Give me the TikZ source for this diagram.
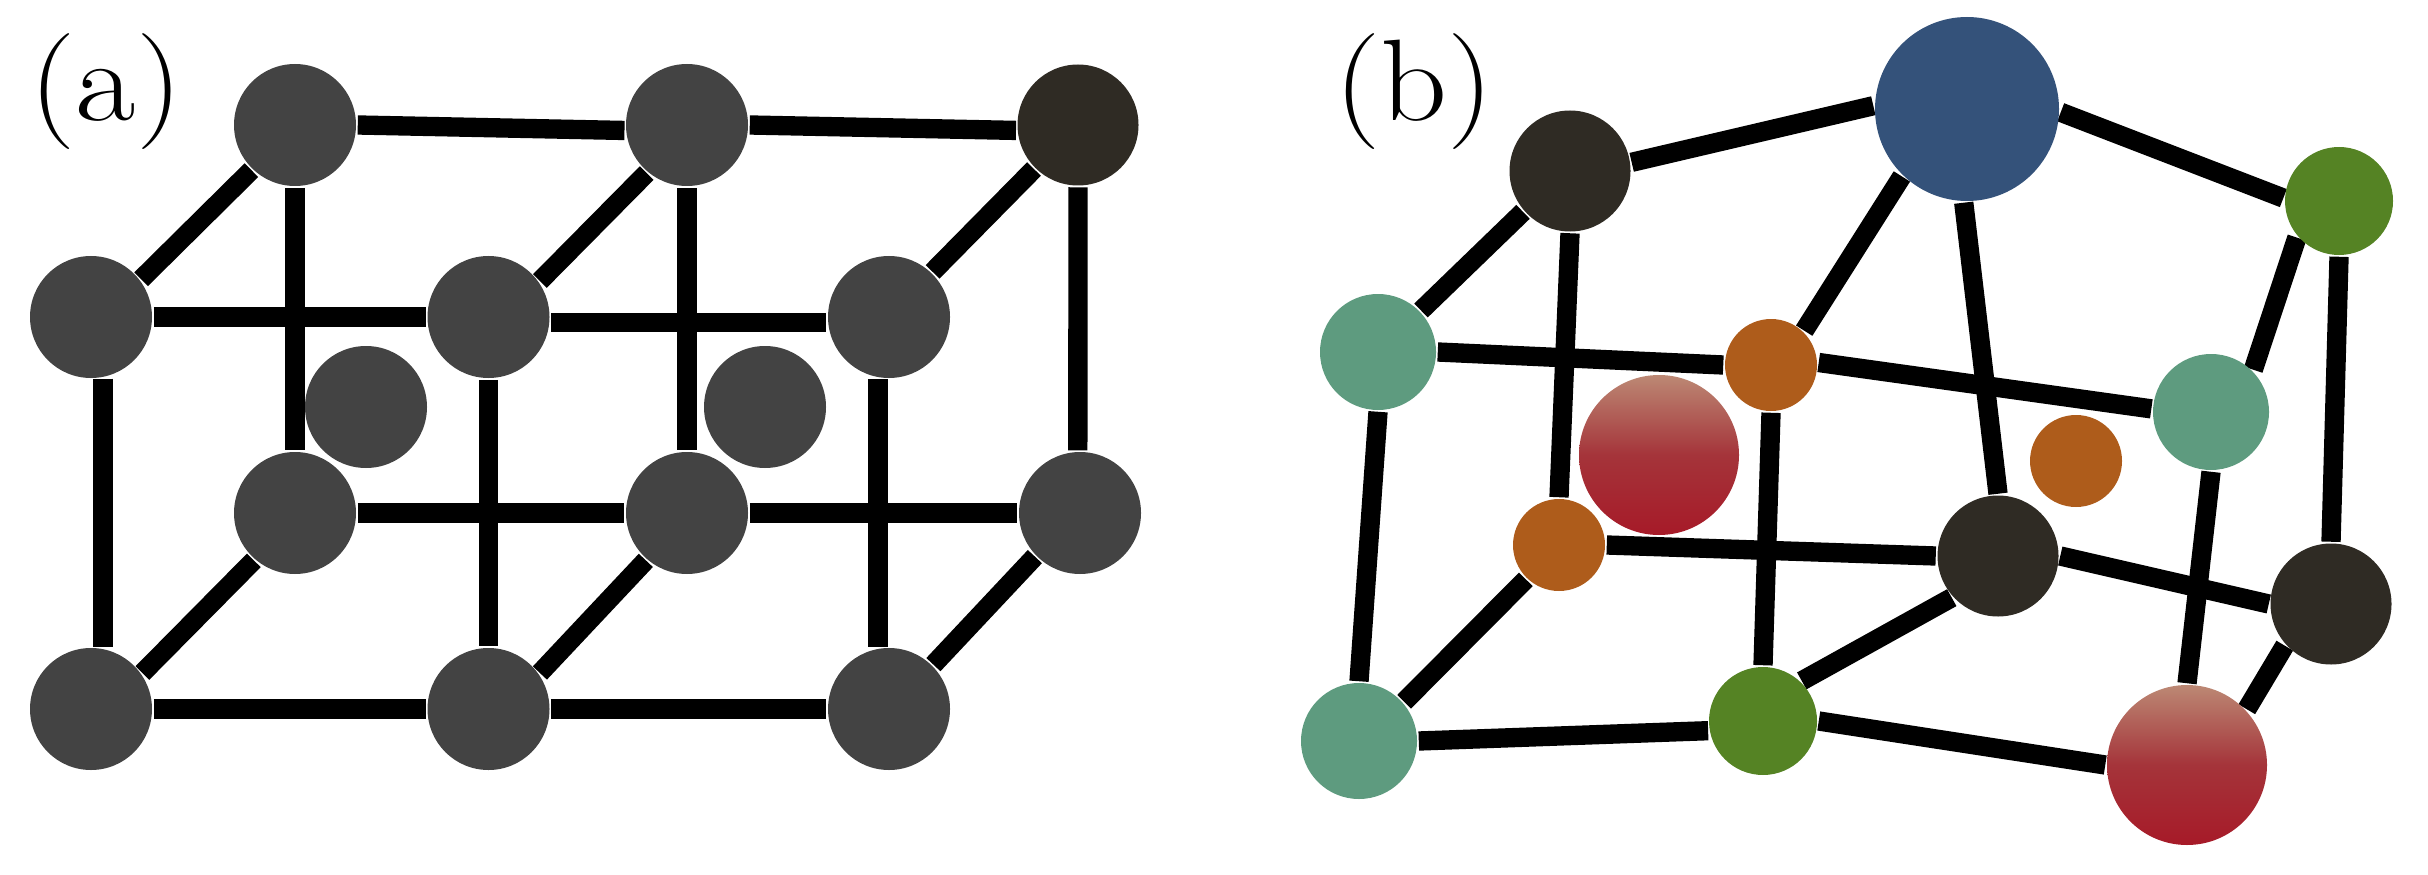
\documentclass[tikz,border=0pt]{standalone}
\usetikzlibrary{backgrounds}
\definecolor{atomgray}{HTML}{434343}
\definecolor{atomdark}{HTML}{2F2B24}
\definecolor{atomblue}{HTML}{34527A}
\definecolor{atomgreen}{HTML}{558324}
\definecolor{atomteal}{HTML}{5E9B7F}
\definecolor{atomorange}{HTML}{AE5C1B}
\definecolor{atomredtop}{HTML}{BC8874}
\definecolor{atomredmid}{HTML}{A5343A}
\definecolor{atomredbot}{HTML}{A61A28}
\tikzset{
	atom/.style={shape=circle,inner sep=0pt,outer sep=0.5pt},
	grayatom/.style={atom,fill=atomgray,minimum size=1.22cm},
	darkatom/.style={atom,fill=atomdark,minimum size=1.21cm},
	blueatom/.style={atom,fill=atomblue,minimum size=1.84cm},
	greenatom/.style={atom,fill=atomgreen,minimum size=1.08cm},
	tealatom/.style={atom,fill=atomteal,minimum size=1.16cm},
	orangeatom/.style={atom,fill=atomorange,minimum size=0.92cm},
	redatom/.style={atom,top color=atomredtop,bottom color=atomredbot,middle color=atomredmid,minimum size=1.6cm},
	bond/.style={draw=black,line width=5.5pt},
	panel/.style={font=\fontsize{33}{38}\selectfont,xscale=1.13,inner sep=0pt}
}
\begin{document}
\begin{tikzpicture}
		\useasboundingbox (0,0) rectangle (24.28,8.74);
		% panel a
		\node [panel] (LabelA) at (1.06,7.82) {(a)};
		\node [grayatom] (CenterL) at (3.66,4.67) {};
		\node [grayatom] (CenterR) at (7.65,4.67) {};
		\node [grayatom] (BackTopL) at (2.95,7.49) {};
		\node [grayatom] (BackTopM) at (6.87,7.49) {};
		\node [darkatom] (BackTopR) at (10.78,7.49) {};
		\node [grayatom] (FrontTopL) at (0.91,5.57) {};
		\node [grayatom] (FrontTopM) at (4.885,5.57) {};
		\node [grayatom] (FrontTopR) at (8.89,5.57) {};
		\node [grayatom] (BackBotL) at (2.95,3.61) {};
		\node [grayatom] (BackBotM) at (6.87,3.61) {};
		\node [grayatom] (BackBotR) at (10.80,3.61) {};
		\node [grayatom] (FrontBotL) at (0.91,1.65) {};
		\node [grayatom] (FrontBotM) at (4.885,1.65) {};
		\node [grayatom] (FrontBotR) at (8.89,1.65) {};
		\begin{scope}[on background layer]
			\draw[bond] (BackTopL.0) -- (BackTopM.185);
			\draw[bond] (BackTopM.0) -- (BackTopR.185);
			\draw[bond] (FrontTopL.0) -- (FrontTopM.180);
			\draw[bond] (FrontTopM.355) -- (FrontTopR.185);
			\draw[bond] (BackBotL.0) -- (BackBotM.180);
			\draw[bond] (BackBotM.0) -- (BackBotR.180);
			\draw[bond] (FrontBotL.0) -- (FrontBotM.180);
			\draw[bond] (FrontBotM.0) -- (FrontBotR.180);
			\draw[bond] (FrontTopL.37) -- (BackTopL.226);
			\draw[bond] (FrontTopM.35) -- (BackTopM.230);
			\draw[bond] (FrontTopR.46) -- (BackTopR.225);
			\draw[bond] (FrontBotL.35) -- (BackBotL.229);
			\draw[bond] (FrontBotM.35) -- (BackBotM.229);
			\draw[bond] (FrontBotR.45) -- (BackBotR.224);
			\draw[bond] (BackTopL.270) -- (BackBotL.90);
			\draw[bond] (BackTopM.270) -- (BackBotM.90);
			\draw[bond] (BackTopR.270) -- (BackBotR.92);
			\draw[bond] (FrontTopL.281) -- (FrontBotL.79);
			\draw[bond] (FrontTopM.270) -- (FrontBotM.90);
			\draw[bond] (FrontTopR.260) -- (FrontBotR.100);
		\end{scope}
		% panel b
		\node [panel] (LabelB) at (14.14,7.82) {(b)};
		\node [blueatom] (Blue) at (19.67,7.65) {};
		\node [darkatom] (DarkA) at (15.70,7.03) {};
		\node [greenatom] (GreenA) at (23.39,6.73) {};
		\node [tealatom] (TealA) at (13.78,5.22) {};
		\node [orangeatom] (OrangeA) at (17.71,5.09) {};
		\node [tealatom] (TealB) at (22.11,4.62) {};
		\node [redatom] (RedA) at (16.59,4.19) {};
		\node [orangeatom] (OrangeB) at (20.76,4.13) {};
		\node [orangeatom] (OrangeC) at (15.59,3.29) {};
		\node [darkatom] (DarkB) at (19.98,3.18) {};
		\node [darkatom] (DarkC) at (23.31,2.70) {};
		\node [tealatom] (TealC) at (13.59,1.33) {};
		\node [greenatom] (GreenB) at (17.63,1.53) {};
		\node [redatom] (RedB) at (21.87,1.09) {};
		\begin{scope}[on background layer]
			\draw[bond] (DarkA.8) -- (Blue.178);
			\draw[bond] (Blue.358) -- (GreenA.177);
			\draw[bond] (Blue.226) -- (OrangeA.46);
			\draw[bond] (Blue.268) -- (DarkB.90);
			\draw[bond] (DarkA.221) -- (TealA.44);
			\draw[bond] (DarkA.270) -- (OrangeC.90);
			\draw[bond] (TealA.0) -- (OrangeA.180);
			\draw[bond] (OrangeA.3) -- (TealB.177);
			\draw[bond] (TealA.270) -- (TealC.90);
			\draw[bond] (OrangeA.270) -- (GreenB.90);
			\draw[bond] (TealB.45) -- (GreenA.221);
			\draw[bond] (TealB.270) -- (RedB.90);
			\draw[bond] (GreenA.270) -- (DarkC.90);
			\draw[bond] (OrangeC.0) -- (DarkB.180);
			\draw[bond] (OrangeC.226) -- (TealC.41);
			\draw[bond] (DarkB.0) -- (DarkC.180);
			\draw[bond] (DarkB.222) -- (GreenB.46);
			\draw[bond] (DarkC.222) -- (RedB.43);
			\draw[bond] (TealC.0) -- (GreenB.190);
			\draw[bond] (GreenB.0) -- (RedB.180);
		\end{scope}
	\end{tikzpicture}
\end{document}
